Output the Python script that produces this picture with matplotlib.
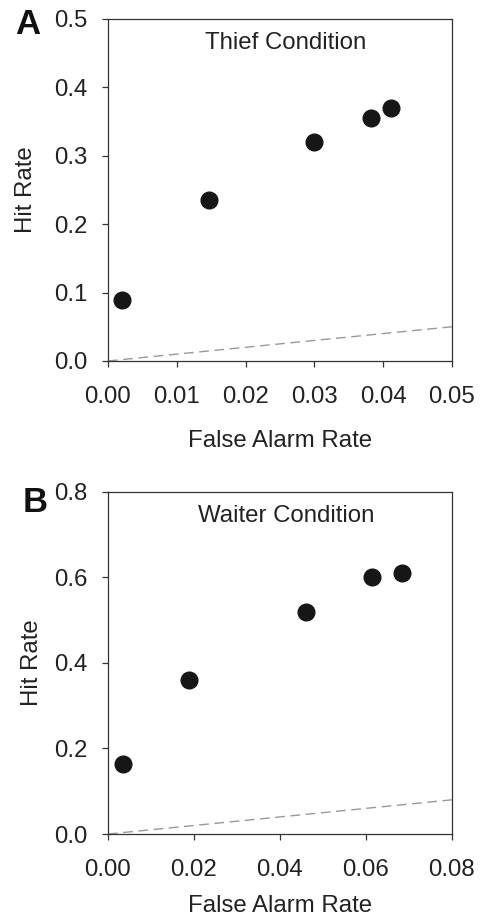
import numpy as np
import matplotlib.pyplot as plt

plt.rcParams['font.family'] = ['Liberation Sans', 'DejaVu Sans']

# Thief condition
thief_far = [0.0021, 0.0147, 0.0300, 0.0383, 0.0411]
thief_hit = [0.089, 0.236, 0.320, 0.355, 0.370]

# Waiter condition
waiter_far = [0.0035, 0.0189, 0.0461, 0.0614, 0.0685]
waiter_hit = [0.164, 0.359, 0.519, 0.600, 0.611]

thief_xticks = [0.00, 0.01, 0.02, 0.03, 0.04, 0.05]
thief_yticks = [0.0, 0.1, 0.2, 0.3, 0.4, 0.5]
waiter_xticks = [0.00, 0.02, 0.04, 0.06, 0.08]
waiter_yticks = [0.0, 0.2, 0.4, 0.6, 0.8]

text_color = '#222222'
fs = 17.3


def draw_panel(ax, far, hit, xticks, yticks, title, ylab_x, xlab_y):
    xmax = xticks[-1]
    ax.plot([0, xmax], [0, xmax], linestyle=(0, (7, 4)), color='#999999', linewidth=1.0)
    ax.plot(far, hit, 'o', color='#161616', markersize=12, clip_on=False)
    ax.set_xlim(0, xmax)
    ax.set_ylim(0, yticks[-1])
    ax.set_xticks(xticks)
    ax.set_yticks(yticks)
    ax.set_xticklabels(['%.2f' % v for v in xticks])
    ax.set_yticklabels(['%.1f' % v for v in yticks])
    for s in ax.spines.values():
        s.set_color('#333333')
        s.set_linewidth(0.9)
    ax.tick_params(axis='x', direction='out', length=4, width=0.9, color='#333333',
                   labelsize=fs, labelcolor=text_color, pad=14)
    ax.tick_params(axis='y', direction='out', length=4, width=0.9, color='#333333',
                   labelsize=fs, labelcolor=text_color, pad=11)
    ax.set_xlabel('False Alarm Rate', fontsize=fs, color=text_color)
    ax.set_ylabel('Hit Rate', fontsize=fs, color=text_color)
    ax.xaxis.set_label_coords(0.5, xlab_y)
    ax.yaxis.set_label_coords(ylab_x, 0.5)
    ax.xaxis.label.set_va('center')
    ax.yaxis.label.set_va('center')
    ax.text(0.517, 0.93, title, transform=ax.transAxes, ha='center', va='center',
            fontsize=fs, color=text_color)


fig = plt.figure(figsize=(4.81, 9.22), dpi=100)
ax1 = fig.add_axes([0.2245, 0.6085, 0.715, 0.371])
ax2 = fig.add_axes([0.2245, 0.0954, 0.715, 0.3713])

draw_panel(ax1, thief_far, thief_hit, thief_xticks, thief_yticks, 'Thief Condition', -0.238, -0.234)
draw_panel(ax2, waiter_far, waiter_hit, waiter_xticks, waiter_yticks, 'Waiter Condition', -0.221, -0.211)

fig.text(15 / 481, 1 - 24 / 922, 'A', ha='left', va='center', fontsize=25,
         fontweight='bold', color='#111111')
fig.text(23 / 481, 1 - 502 / 922, 'B', ha='left', va='center', fontsize=25,
         fontweight='bold', color='#111111')

fig.savefig('out.png', dpi=100)
